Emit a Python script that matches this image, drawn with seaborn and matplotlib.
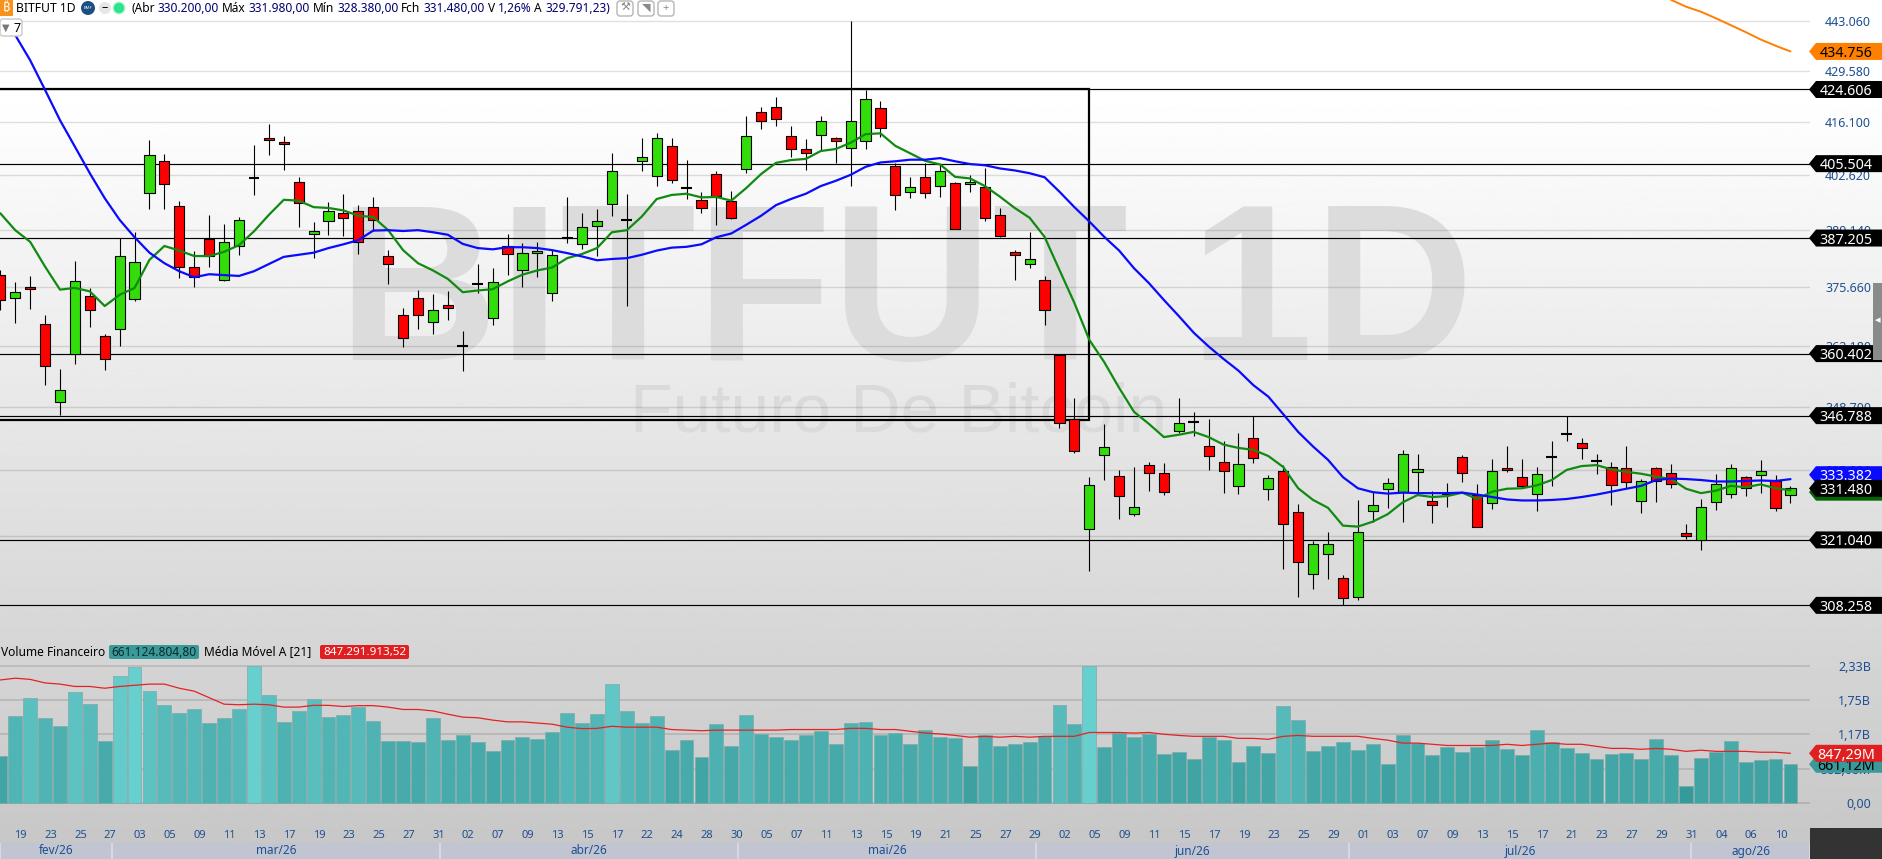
import numpy as np
import pandas as pd
import matplotlib
matplotlib.use('Agg')
import matplotlib.pyplot as plt
import seaborn as sns
from matplotlib.patches import Polygon, Rectangle, Circle, FancyBboxPatch
from matplotlib.ticker import NullLocator
from matplotlib.transforms import IdentityTransform

# daily candles
opens = [378.5, 373.0, 375.5, 367.0, 349.8, 360.3, 373.5, 364.3, 365.9, 372.8,
         398.1, 406.1, 395.0, 380.3, 386.9, 377.2, 385.2, 401.8, 411.9, 410.9,
         400.8, 388.1, 391.3, 393.2, 393.7, 394.7, 382.9, 369.1, 373.0, 367.5,
         371.4, 362.0, 376.4, 368.4, 385.4, 379.6, 383.6, 374.2, 387.1, 385.7,
         390.1, 395.4, 391.5, 406.1, 402.3, 409.9, 399.3, 396.4, 402.8, 396.3,
         404.1, 418.6, 419.9, 412.4, 409.1, 412.7, 411.9, 409.4, 411.2, 419.7,
         404.8, 398.4, 402.1, 399.9, 400.6, 400.3, 399.6, 392.7, 383.8, 381.0,
         377.2, 360.1, 346.0, 323.3, 338.4, 334.0, 326.2, 336.3, 334.6, 343.6,
         345.5, 340.3, 336.9, 331.9, 342.0, 331.3, 335.0, 326.6, 314.3, 318.2,
         313.5, 309.8, 326.8, 331.3, 330.7, 334.8, 328.8, 330.3, 338.0, 330.1,
         328.4, 335.7, 333.8, 330.3, 338.0, 342.9, 341.0, 337.2, 335.9, 335.7,
         328.8, 335.7, 334.6, 322.5, 321.1, 328.6, 330.4, 333.8, 334.2, 332.9,
         330.2]
highs = [379.7, 376.8, 378.2, 369.2, 357.0, 381.8, 375.4, 364.8, 387.2, 388.7,
         411.5, 407.9, 396.3, 384.2, 392.8, 390.6, 392.3, 410.2, 415.6, 412.5,
         402.2, 391.1, 396.0, 398.0, 395.3, 397.2, 384.3, 370.8, 375.0, 374.0,
         374.7, 365.5, 381.0, 380.1, 388.2, 386.0, 386.2, 384.3, 397.2, 393.3,
         394.3, 408.2, 398.0, 412.0, 413.4, 412.0, 406.4, 398.4, 403.6, 398.7,
         417.8, 420.0, 422.6, 415.1, 411.8, 417.6, 412.3, 443.0, 424.5, 421.6,
         405.6, 402.2, 405.6, 405.1, 401.0, 402.6, 404.3, 394.5, 384.3, 388.6,
         378.2, 360.4, 350.6, 333.8, 345.0, 335.3, 336.0, 337.0, 336.8, 350.6,
         347.6, 346.0, 341.3, 343.1, 346.8, 334.2, 336.4, 328.3, 320.8, 322.6,
         314.1, 329.1, 330.7, 333.6, 339.5, 338.7, 330.9, 332.6, 338.4, 332.4,
         337.6, 340.3, 337.6, 335.9, 341.4, 346.8, 342.0, 338.7, 337.0, 340.3,
         333.4, 336.0, 336.6, 324.2, 329.3, 334.4, 336.6, 334.0, 337.4, 334.2,
         331.98]
lows = [370.3, 367.4, 370.6, 353.4, 346.9, 358.1, 366.3, 356.8, 362.0, 372.4,
        394.3, 394.3, 377.8, 375.7, 380.4, 377.1, 383.2, 397.6, 407.7, 403.9,
        389.9, 382.5, 387.9, 387.7, 383.4, 388.8, 376.4, 361.8, 366.0, 364.7,
        368.0, 356.6, 374.3, 366.9, 378.5, 375.7, 378.0, 372.4, 386.1, 384.6,
        382.8, 392.6, 371.1, 403.6, 399.9, 400.7, 396.7, 393.3, 390.4, 391.7,
        403.2, 414.3, 415.1, 407.2, 403.9, 408.6, 405.6, 399.9, 409.2, 412.3,
        394.1, 397.0, 397.0, 397.3, 389.3, 398.5, 391.2, 387.4, 377.3, 380.0,
        366.9, 344.1, 338.9, 315.0, 333.2, 325.3, 325.9, 330.9, 330.1, 343.1,
        342.4, 335.3, 330.5, 330.3, 336.8, 329.1, 315.3, 309.9, 311.4, 313.4,
        308.4, 309.3, 324.6, 327.4, 324.6, 330.1, 324.4, 327.7, 332.8, 323.7,
        327.2, 334.9, 331.8, 326.8, 332.0, 341.4, 337.6, 334.4, 328.1, 331.5,
        326.4, 328.7, 331.5, 321.2, 319.0, 327.0, 329.5, 329.9, 330.5, 326.8,
        328.38]
closes = [372.6, 374.4, 375.1, 357.7, 352.3, 376.9, 370.2, 359.2, 382.9, 381.5,
          407.6, 400.3, 380.3, 377.9, 382.9, 386.2, 391.5, 401.8, 411.4, 410.4,
          395.7, 388.8, 393.7, 392.0, 386.2, 391.5, 381.0, 363.9, 369.1, 370.2,
          370.7, 362.0, 376.4, 376.7, 383.3, 383.6, 384.0, 383.2, 387.1, 389.8,
          391.3, 403.6, 391.5, 407.1, 411.9, 401.3, 399.3, 394.5, 397.4, 392.0,
          412.4, 416.5, 417.0, 409.3, 408.1, 416.3, 411.2, 416.5, 422.0, 414.5,
          397.7, 399.6, 398.1, 403.6, 389.3, 400.8, 392.0, 387.6, 383.1, 382.2,
          370.3, 345.1, 339.2, 332.1, 340.2, 329.9, 327.6, 334.6, 330.7, 345.1,
          345.5, 338.2, 335.0, 336.5, 337.8, 333.6, 324.3, 316.6, 320.2, 320.2,
          309.6, 322.7, 328.1, 332.5, 338.6, 335.4, 328.0, 330.3, 334.6, 323.7,
          335.0, 335.2, 331.9, 334.4, 338.0, 342.9, 339.9, 337.2, 332.1, 332.7,
          332.9, 333.0, 332.3, 321.9, 327.6, 332.3, 335.7, 331.5, 335.0, 327.4,
          331.48]
ma_fast = [393.2, 389.1, 386.3, 380.4, 375.0, 375.4, 374.6, 371.2, 373.8, 375.4,
           382.0, 385.3, 384.2, 382.9, 382.9, 383.9, 385.5, 388.8, 392.8, 396.5,
           396.3, 394.7, 394.5, 393.9, 392.6, 392.3, 389.1, 384.3, 381.2, 379.5,
           377.5, 374.4, 374.8, 375.1, 376.9, 378.5, 379.5, 380.2, 382.4, 383.4,
           384.8, 388.6, 389.1, 392.4, 396.7, 397.7, 398.0, 397.1, 397.2, 396.3,
           399.4, 402.9, 405.7, 406.4, 406.7, 408.7, 409.2, 410.8, 413.0, 413.2,
           410.0, 408.1, 406.2, 405.3, 402.2, 401.8, 399.9, 397.3, 394.5, 392.1,
           387.5, 379.6, 371.9, 363.5, 358.5, 352.8, 347.6, 345.0, 342.2, 342.7,
           343.3, 342.2, 340.6, 339.9, 339.5, 338.2, 335.9, 331.5, 329.1, 327.5,
           323.9, 323.7, 324.7, 326.2, 328.6, 330.1, 329.7, 329.9, 330.6, 329.3,
           330.8, 331.4, 331.5, 332.1, 333.2, 335.3, 336.1, 336.3, 335.4, 334.9,
           334.5, 333.9, 333.4, 331.4, 330.5, 331.0, 332.0, 331.7, 332.3, 331.5,
           331.1]
ma_slow = [446.3, 439.2, 432.4, 424.5, 416.6, 409.8, 403.1, 396.9, 391.6, 387.4,
           383.7, 381.2, 379.3, 377.9, 378.6, 378.4, 378.2, 379.3, 381.0, 382.7,
           383.2, 383.7, 384.8, 385.7, 386.7, 389.0, 389.1, 388.9, 389.1, 388.6,
           388.0, 385.8, 384.8, 384.5, 385.0, 385.0, 384.8, 384.3, 383.6, 382.8,
           381.9, 382.2, 382.4, 383.2, 384.2, 384.9, 385.1, 385.7, 387.4, 388.3,
           390.4, 392.6, 395.2, 396.7, 398.0, 399.9, 401.2, 402.7, 404.7, 405.8,
           406.1, 406.5, 406.5, 406.9, 406.1, 405.4, 405.1, 404.3, 403.8, 403.1,
           402.1, 398.5, 394.7, 391.2, 387.5, 384.2, 380.0, 376.5, 372.6, 368.9,
           365.1, 362.0, 359.2, 356.6, 353.4, 350.9, 347.1, 343.3, 340.2, 337.4,
           333.8, 331.5, 330.7, 330.4, 330.6, 330.5, 330.5, 330.5, 330.6, 330.2,
           329.7, 329.2, 329.0, 329.0, 329.1, 329.3, 329.7, 330.2, 330.8, 331.4,
           332.0, 333.2, 333.5, 333.4, 333.2, 332.9, 332.9, 333.0, 333.1, 333.0,
           333.38]
long_idx = [112, 113, 114, 115, 116, 117, 118, 119, 120]
ma_long = [448.9, 447.0, 445.6, 443.8, 441.9, 440.0, 438.0, 436.3, 434.756]

# financial volume in billions
volumes = [0.80, 1.48, 1.79, 1.45, 1.31, 1.89, 1.68, 1.06, 2.16, 2.31,
           1.90, 1.67, 1.53, 1.60, 1.36, 1.45, 1.60, 2.33, 1.84, 1.38,
           1.56, 1.77, 1.46, 1.50, 1.63, 1.40, 1.06, 1.06, 1.04, 1.45,
           1.07, 1.16, 1.04, 0.89, 1.07, 1.12, 1.09, 1.21, 1.53, 1.36,
           1.51, 2.02, 1.56, 1.36, 1.48, 0.90, 1.07, 0.79, 1.34, 0.97,
           1.50, 1.18, 1.12, 1.07, 1.16, 1.23, 1.01, 1.36, 1.38, 1.16,
           1.19, 1.01, 1.24, 1.12, 1.11, 0.63, 1.16, 0.97, 1.01, 1.04,
           1.14, 1.67, 1.34, 2.33, 0.95, 1.19, 1.12, 1.18, 0.84, 0.87,
           0.75, 1.12, 1.07, 0.70, 0.97, 0.85, 1.65, 1.41, 0.89, 0.97,
           1.04, 0.90, 1.01, 0.67, 1.16, 1.02, 0.82, 0.95, 0.87, 0.95,
           1.07, 0.92, 0.82, 1.24, 1.04, 0.94, 0.85, 0.75, 0.84, 0.85,
           0.75, 1.09, 0.82, 0.29, 0.77, 0.87, 1.06, 0.70, 0.73, 0.75,
           0.661]
vol_ma = [2.09, 2.12, 2.10, 2.04, 2.02, 1.98, 1.98, 1.95, 1.98, 2.00,
          2.02, 2.02, 1.95, 1.90, 1.79, 1.68, 1.67, 1.68, 1.67, 1.63,
          1.63, 1.66, 1.66, 1.64, 1.655, 1.655, 1.63, 1.59, 1.59, 1.565,
          1.51, 1.46, 1.45, 1.41, 1.38, 1.38, 1.36, 1.34, 1.29, 1.265,
          1.27, 1.305, 1.29, 1.29, 1.29, 1.25, 1.24, 1.23, 1.24, 1.24,
          1.24, 1.24, 1.24, 1.25, 1.25, 1.25, 1.25, 1.27, 1.27, 1.25,
          1.25, 1.22, 1.19, 1.175, 1.15, 1.12, 1.135, 1.12, 1.135, 1.12,
          1.135, 1.135, 1.135, 1.20, 1.20, 1.20, 1.19, 1.20, 1.17, 1.15,
          1.135, 1.135, 1.135, 1.10, 1.10, 1.085, 1.135, 1.15, 1.135, 1.135,
          1.135, 1.135, 1.10, 1.07, 1.02, 1.02, 1.00, 0.98, 0.98, 0.98,
          0.98, 1.00, 0.98, 1.00, 1.02, 1.00, 1.00, 0.965, 0.93, 0.93,
          0.915, 0.93, 0.915, 0.88, 0.90, 0.88, 0.88, 0.88, 0.865, 0.865,
          0.847]

# support / resistance lines and the drawn box
level_lines = [424.606, 405.504, 387.205, 360.402, 346.788, 321.040, 308.258]
box_right = 73.0
box_top = 424.606
box_bottom = 345.95

price_ticks = [443.06, 429.58, 416.10, 402.62, 389.14, 375.66, 362.18, 348.70, 335.22, 321.74]
price_tick_labels = ['443.060', '429.580', '416.100', '402.620', '389.140', '375.660',
                     '362.180', '348.700', '335.220', '321.740']
vol_ticks = [2.33, 1.75, 1.17, 0.5826, 0.0]
vol_tick_labels = ['2,33B', '1,75B', '1,17B', '582,68M', '0,00']

day_labels = ['19', '23', '25', '27', '03', '05', '09', '11', '13', '17', '19', '23',
              '25', '27', '31', '02', '07', '09', '13', '15', '17', '22', '24', '28',
              '30', '05', '07', '11', '13', '15', '19', '21', '25', '27', '29', '02',
              '05', '09', '11', '15', '17', '19', '23', '25', '29', '01', '03', '07',
              '09', '13', '15', '17', '21', '23', '27', '29', '31', '04', '06', '10']
month_labels = ['fev/26', 'mar/26', 'abr/26', 'mai/26', 'jun/26', 'jul/26', 'ago/26']
month_edges = [0.0, 7.48, 29.5, 49.47, 69.45, 90.4, 113.35, 121.31]

W, H = 1883, 859
TEXT_BLUE = '#1d4f91'

sns.set_theme(style='white')
plt.rcParams['font.family'] = ['Noto Sans', 'DejaVu Sans']

df = pd.DataFrame({'i': np.arange(len(closes)), 'open': opens, 'high': highs, 'low': lows,
                   'close': closes, 'fast': ma_fast, 'slow': ma_slow,
                   'vol': volumes, 'vol_ma': vol_ma})
long_df = pd.DataFrame({'i': long_idx, 'ma': ma_long})


def fx(x):
    return x / W


def fy(y):
    return 1 - y / H


def label(x, y, txt, color='black', size=8.6, weight='normal', ha='left', z=6):
    fig.text(fx(x), fy(y), txt, color=color, fontsize=size, fontweight=weight,
             ha=ha, va='center', zorder=z)


def tag(ax, val, txt, bg, fg, z):
    # price flag on the right axis, y comes from the pane's own scale
    yc = ax.transData.transform((0, val))[1]
    pts = [(1809, yc), (1816, yc + 8.5), (1882, yc + 8.5), (1882, yc - 8.5), (1816, yc - 8.5)]
    fig.add_artist(Polygon(pts, closed=True, facecolor=bg, edgecolor='none',
                           transform=IdentityTransform(), zorder=z))
    fig.text(1846 / W, yc / H, txt, color=fg, fontsize=10.3, fontweight='bold',
             ha='center', va='center_baseline', zorder=z + 0.1)


fig = plt.figure(figsize=(W / 100, H / 100), dpi=100)
fig.patch.set_facecolor('white')

# page background, white fading to grey
ax_bg = fig.add_axes([0, 0, 1, 1], zorder=-2)
grad = np.clip(np.linspace(262, 198, 400), 0, 255)[:, None] / 255
ax_bg.imshow(grad, cmap='gray', vmin=0, vmax=1, aspect='auto', extent=[0, 1, 0, 1])
ax_bg.axis('off')

# watermark
fig.text(fx(906), fy(360), 'BITFUT 1D', color='#dcdcdc', fontsize=160, fontweight='bold',
         family='Liberation Sans', ha='center', va='baseline', zorder=-1)
fig.text(fx(899), fy(431), 'Futuro De Bitcoin', color='#dadada', fontsize=50,
         family='Liberation Sans', ha='center', va='baseline', zorder=-1)

# price pane
ax = fig.add_axes([0, 1 - 630 / H, 1810 / W, 630 / H], zorder=1)
ax.patch.set_alpha(0)
ax.set_yscale('log')
ax.set_xlim(-0.02, 121.31)
ax.set_ylim(303.58, 448.86)

ax.hlines(price_ticks, -1, 122, color='black', alpha=0.12, lw=1, zorder=1)
ax.hlines(level_lines, -1, 122, color='black', lw=0.85, zorder=1.5)
ax.add_patch(Rectangle((-2, box_bottom), box_right + 2, box_top - box_bottom, fill=False,
                       edgecolor='black', lw=1.6, zorder=1.6))

ax.vlines(df['i'], df['low'], df['high'], color='black', lw=0.8, zorder=2)
real = df[df['open'] != df['close']]
body_col = np.where(real['close'] > real['open'], '#33dd0b', '#ff0000')
ax.bar(real['i'], (real['close'] - real['open']).abs(), bottom=real[['open', 'close']].min(axis=1),
       width=0.68, color=body_col, edgecolor='black', lw=0.8, zorder=3)
doji = df[df['open'] == df['close']]
ax.hlines(doji['close'], doji['i'] - 0.36, doji['i'] + 0.36, color='black', lw=1.5, zorder=3)

sns.lineplot(data=df, x='i', y='fast', color='#108a10', lw=1.6, estimator=None, ax=ax, zorder=4)
sns.lineplot(data=df, x='i', y='slow', color='#0a0aff', lw=1.6, estimator=None, ax=ax, zorder=4.5)
sns.lineplot(data=long_df, x='i', y='ma', color='#ff8000', lw=1.4, estimator=None, ax=ax, zorder=4)

ax.set_xlim(-0.02, 121.31)
ax.set_ylim(303.58, 448.86)
ax.set_xlabel('')
ax.set_ylabel('')
ax.set_xticks([])
ax.yaxis.tick_right()
ax.set_yticks(price_ticks)
ax.set_yticklabels(price_tick_labels)
ax.yaxis.set_minor_locator(NullLocator())
ax.tick_params(axis='y', length=0, pad=44, labelsize=9, labelcolor=TEXT_BLUE)
for t in ax.get_yticklabels():
    t.set_ha('right')
sns.despine(ax=ax, left=True, bottom=True, top=True, right=True)

# volume pane
ax2 = fig.add_axes([0, 1 - 827 / H, 1810 / W, 197 / H], zorder=1)
ax2.patch.set_alpha(0)
ax2.hlines(vol_ticks, -1, 122, color='black', alpha=0.13, lw=1.2, zorder=1)
bar_cmap = sns.blend_palette(['#359a9a', '#4db0b0', '#68cfcf'], as_cmap=True)
sns.barplot(data=df, x='i', y='vol', hue='vol', palette=bar_cmap, hue_norm=(0.29, 2.33),
            native_scale=True, dodge=False, legend=False, width=0.93, errorbar=None,
            saturation=1, edgecolor='#7fa9a9', lw=0.5, ax=ax2, zorder=2)
sns.lineplot(data=df, x='i', y='vol_ma', color='#e52222', lw=0.9, estimator=None, ax=ax2, zorder=3)
ax2.set_xlim(-0.02, 121.31)
ax2.set_ylim(-0.402, 2.937)
ax2.set_xlabel('')
ax2.set_ylabel('')
ax2.set_xticks(np.arange(1, 120, 2) + 0.37)
ax2.set_xticklabels(day_labels)
ax2.yaxis.tick_right()
ax2.set_yticks(vol_ticks)
ax2.set_yticklabels(vol_tick_labels)
ax2.tick_params(axis='y', length=0, pad=44, labelsize=9, labelcolor=TEXT_BLUE)
ax2.tick_params(axis='x', length=0, pad=2, labelsize=8, labelcolor=TEXT_BLUE)
for t in ax2.get_yticklabels():
    t.set_ha('right')
sns.despine(ax=ax2, left=True, bottom=True, top=True, right=True)

# month strip
ax3 = fig.add_axes([0, 0, 1810 / W, 16 / H], zorder=1)
ax3.set_xlim(-0.02, 121.31)
ax3.set_ylim(0, 1)
ax3.set_facecolor('#d6d9df')
for name, a, b in zip(month_labels, month_edges[:-1], month_edges[1:]):
    ax3.axvspan(a + 0.07, b - 0.07, color='#c1c5d1', lw=0)
    ax3.text((a + b) / 2, 0.5, name, color=TEXT_BLUE, fontsize=8.5, ha='center', va='center')
ax3.set_xticks([])
ax3.set_yticks([])
sns.despine(ax=ax3, left=True, bottom=True, top=True, right=True)

# right axis flags, same stacking as the platform (the blue one gets pushed up)
tag(ax, ma_long[-1], '434.756', '#ff8000', 'black', 3)
for n, lv in enumerate(level_lines):
    tag(ax, lv, '%.3f' % lv, 'black', 'white', 3.2 + n * 0.2)
tag(ax, 334.3, '333.382', '#0a0aff', 'white', 5)
tag(ax, 330.7, '', '#006400', 'white', 5.2)
tag(ax, 331.48, '331.480', 'black', 'white', 5.4)
tag(ax2, 0.66112, '661,12M', '#3a9a9a', 'black', 5.6)
tag(ax2, 0.84729, '847,29M', '#e02020', 'white', 5.8)

# corner box and scroll handle
fig.add_artist(Rectangle((fx(1810), 0), 73 / W, 31 / H, facecolor='#333333', edgecolor='none', zorder=5))
fig.add_artist(Rectangle((fx(1873), fy(360)), 10 / W, 77 / H, facecolor='#8a8a8a', edgecolor='none', zorder=5))
label(1875, 321, '◂', color='white', size=8)

# header strip
fig.add_artist(Rectangle((0, fy(19.5)), 30 / W, 19.5 / H, facecolor='white', edgecolor='none', zorder=5))
fig.add_artist(Rectangle((0, fy(16)), 13 / W, 16 / H, facecolor='#f7931a', edgecolor='none', zorder=5.1))
label(6.5, 8, '₿', color='white', size=9, weight='bold', ha='center')
label(16, 8, 'BITFUT 1D', size=8.8)
fig.add_artist(Circle((88, H - 8), 7, facecolor='#1c4f82', edgecolor='none',
                      transform=IdentityTransform(), zorder=5.1))
label(88, 8, 'BMF', color='white', size=3, ha='center')
fig.add_artist(Circle((105, H - 8), 6, facecolor='#e6e6e6', edgecolor='none',
                      transform=IdentityTransform(), zorder=5.1))
label(105, 7.5, '–', size=9, weight='bold', ha='center')
fig.add_artist(Circle((119, H - 8), 6, facecolor='#2fe58c', edgecolor='#c8f5dd', lw=1,
                      transform=IdentityTransform(), zorder=5.1))
ohlc_parts = [(131, '(Abr', 'black'), (157.6, '330.200,00', '#00006e'), (222, 'Máx', 'black'),
              (248.7, '331.980,00', '#00006e'), (313, 'Mín', 'black'), (337.5, '328.380,00', '#00006e'),
              (401.3, 'Fch', 'black'), (423.7, '331.480,00', '#00006e'), (488, 'V', 'black'),
              (498, '1,26%', '#00006e'), (534, 'A', 'black'), (545.5, '329.791,23)', '#00006e')]
for px, txt, col in ohlc_parts:
    label(px, 8, txt, color=col, size=8.6)
for x0, glyph in [(617, '⚒'), (638, '◥'), (658, '+')]:
    fig.add_artist(FancyBboxPatch((x0 + 1, H - 15), 14, 13, boxstyle='round,pad=1,rounding_size=3',
                                  facecolor='white', edgecolor='#b5b5b5', lw=1,
                                  transform=IdentityTransform(), zorder=5.1))
    label(x0 + 8, 8, glyph, color='#8a8a8a', size=8, weight='bold', ha='center')
fig.add_artist(FancyBboxPatch((1, H - 35), 20, 15, boxstyle='round,pad=1,rounding_size=3',
                              facecolor='white', edgecolor='#c8c8c8', lw=1,
                              transform=IdentityTransform(), zorder=5.1))
label(2, 28, '▼', color='#777777', size=7)
label(14, 28, '7', size=9)

# volume pane title
label(1, 652, 'Volume Financeiro')
fig.add_artist(FancyBboxPatch((110, H - 658), 88, 12, boxstyle='round,pad=1,rounding_size=2',
                              facecolor='#3a9a9a', edgecolor='none',
                              transform=IdentityTransform(), zorder=5.1))
label(154, 652, '661.124.804,80', color='#0b2a2a', ha='center')
label(204, 652, 'Média Móvel A [21]')
fig.add_artist(FancyBboxPatch((321, H - 658), 87, 12, boxstyle='round,pad=1,rounding_size=2',
                              facecolor='#e02020', edgecolor='none',
                              transform=IdentityTransform(), zorder=5.1))
label(364.5, 652, '847.291.913,52', color='white', size=8.4, weight='bold', ha='center')

fig.savefig('out.png', dpi=100)
